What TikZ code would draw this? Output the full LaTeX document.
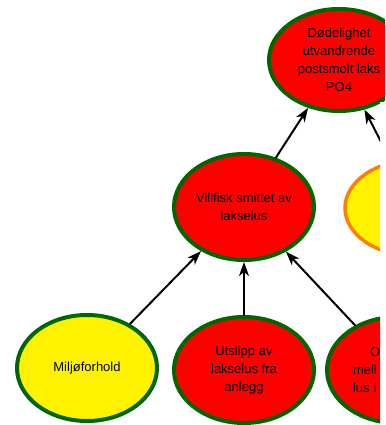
\documentclass[tikz,border=0pt]{standalone}
\usepackage{fontspec}
\setmainfont{Liberation Sans}
\usetikzlibrary{arrows.meta}
\usetikzlibrary{shapes.geometric}
\definecolor{kantgronn}{RGB}{0,102,0}
\definecolor{gul}{RGB}{255,242,0}
\definecolor{oransje}{RGB}{255,128,0}

\tikzset{
  faktor/.style={ellipse, draw=kantgronn, line width=4pt, minimum width=140pt,
    minimum height=106pt, inner sep=0pt, align=center,
    font=\fontsize{13}{18}\selectfont},
  rodfaktor/.style={faktor, fill=red},
  gulfaktor/.style={faktor, fill=gul},
  pil/.style={->, line width=2pt}
}

\begin{document}
\begin{tikzpicture}[line cap=round,line join=round,>={Stealth[length=14pt,width=10pt,inset=4pt]},x=1pt,y=-1pt]
\useasboundingbox (0,0) rectangle (385,425);
\clip (0,0) -- (385,0) -- (385,102) -- (380,102) -- (380,425) -- (0,425) -- cycle;
% toppnivaa
\node[rodfaktor, minimum height=102pt] (dodelighet) at (339,60) {Dødelighet\\utvandrende\\postsmolt laks\\PO4};
% midtre nivaa
\node[rodfaktor] (villfisk) at (244,207) {Villfisk smittet av\\lakselus};
\node[gulfaktor, draw=oransje, line width=3.5pt, minimum height=96pt] (hoyrefaktor) at (415,208) {};
% nederste nivaa
\node[gulfaktor] (miljo) at (87,368) {Miljøforhold};
\node[rodfaktor] (utslipp) at (244,370) {Utslipp av\\lakselus fra\\anlegg};
\node[rodfaktor, align=left, text width=88pt] (smittekilde) at (397,370) {\hspace*{17pt}O\\mell\\lus i};
% piler
\draw[pil] (villfisk) -- (dodelighet);
\draw[pil] (hoyrefaktor) -- (dodelighet);
\draw[pil] (miljo) -- (villfisk);
\draw[pil] (utslipp) -- (villfisk);
\draw[pil] (smittekilde) -- (villfisk);
\end{tikzpicture}
\end{document}
